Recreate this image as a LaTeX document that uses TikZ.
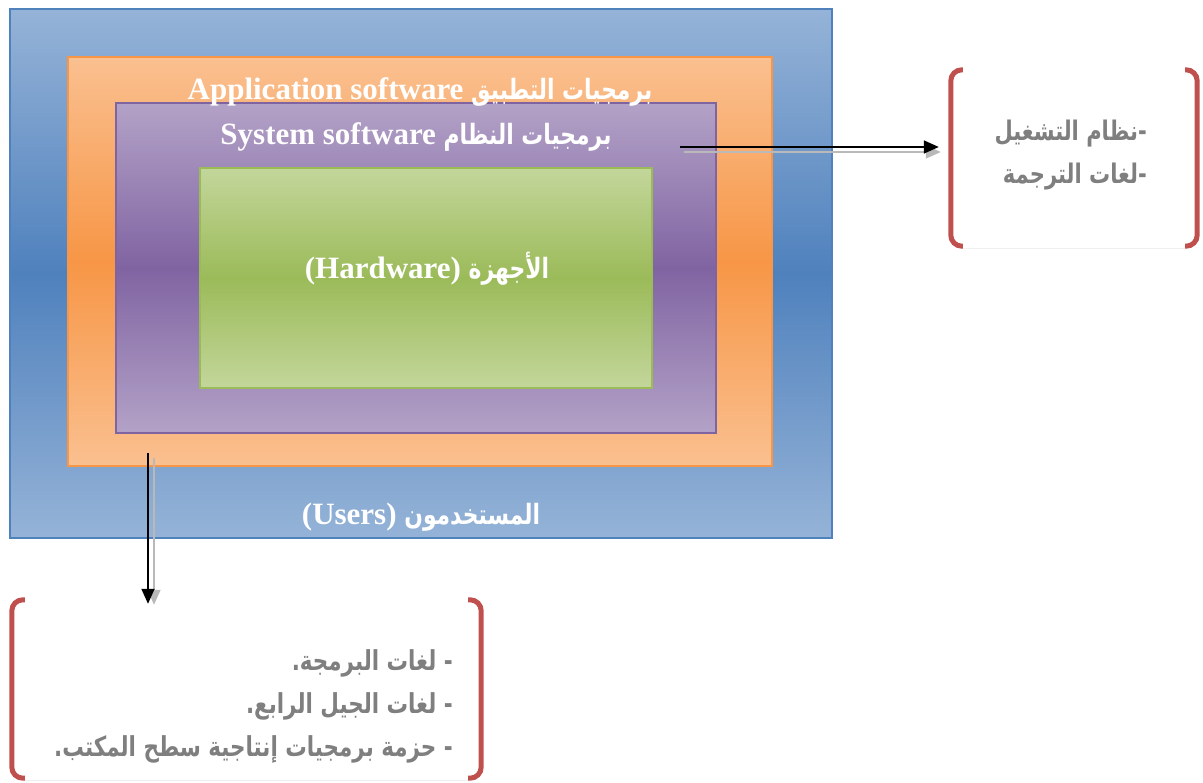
\documentclass[tikz,border=0pt]{standalone}
\usepackage{fontspec}
\setmainfont{Liberation Serif}
\newfontfamily\arabicfont[Script=Arabic,FakeStretch=0.78]{DejaVu Sans}
\TeXXeTstate=1
\usetikzlibrary{arrows.meta,calc}
\definecolor{bluetop}{HTML}{95B3D7}
\definecolor{bluemid}{HTML}{4F81BD}
\definecolor{orgtop}{HTML}{FAC090}
\definecolor{orgmid}{HTML}{F79646}
\definecolor{purtop}{HTML}{B3A2C7}
\definecolor{purmid}{HTML}{8064A2}
\definecolor{grntop}{HTML}{C3D69B}
\definecolor{grnmid}{HTML}{9BBB59}
\definecolor{brkred}{HTML}{C0504D}
\definecolor{txtgray}{HTML}{7F7F7F}
\newcommand{\ar}[2][28]{{\arabicfont\bfseries\fontsize{#1}{#1}\selectfont\beginR #2\endR}}
\begin{document}
\begin{tikzpicture}[x=1pt,y=-1pt,
  layer/.style={inner sep=0pt, line width=1.8pt},
  title/.style={anchor=base, inner sep=0pt, text=white, font=\bfseries\fontsize{31}{36}\selectfont},
  note/.style={anchor=base east, inner sep=0pt, text=txtgray},
  brk/.style={draw=brkred, line width=5pt, rounded corners=11pt},
  faint/.style={draw=gray!12, line width=0.8pt},
  arr/.style={line width=1.6pt, -{Triangle[length=15pt,width=13pt]}},
  sharr/.style={line width=1.6pt, draw=gray!55, -{Triangle[length=15pt,width=13pt]}, gray!55},
]
\useasboundingbox (0,0) rectangle (1203,783);
\node[layer, draw=bluemid, top color=bluetop, bottom color=bluetop, middle color=bluemid,
      minimum width=822pt, minimum height=529pt] (users) at (421,273.5) {};
\node[layer, draw=orgmid, top color=orgtop, bottom color=orgtop, middle color=orgmid,
      minimum width=704pt, minimum height=409pt] (app) at (420,261.5) {};
\node[layer, draw=purmid, top color=purtop, bottom color=purtop, middle color=purmid,
      minimum width=600pt, minimum height=330pt] (sys) at (416,268) {};
\node[layer, draw=grnmid, top color=grntop, bottom color=grntop, middle color=grnmid,
      minimum width=452pt, minimum height=220pt] (hw) at (426,278) {};

\node[title] (tapp) at (420,100) {Application software \ar{برمجيات التطبيق}};
\node[title] (tsys) at (416,145) {System software \ar{برمجيات النظام}};
\node[title] (thw) at (427,279) {(Hardware) \ar{الأجهزة}};
\node[title] (tusr) at (421,525) {(Users) \ar{المستخدمون}};

% right bracket box
\node[inner sep=0pt, minimum width=252pt, minimum height=180pt] (rbox) at (1074,158) {};
\draw[faint] ([xshift=14pt]rbox.south west) -- ([xshift=-14pt]rbox.south east);
\draw[brk] ([xshift=15pt,yshift=-2pt]rbox.north west) -- ([xshift=3pt,yshift=-2pt]rbox.north west)
  -- ([xshift=3pt,yshift=2pt]rbox.south west) -- ([xshift=15pt,yshift=2pt]rbox.south west);
\draw[brk] ([xshift=-15pt,yshift=-2pt]rbox.north east) -- ([xshift=-3pt,yshift=-2pt]rbox.north east)
  -- ([xshift=-3pt,yshift=2pt]rbox.south east) -- ([xshift=-15pt,yshift=2pt]rbox.south east);
\node[note] (r1) at (1147,141) {\ar[27]{-نظام التشغيل}};
\node[note] (r2) at (1147,184) {\ar[27]{-لغات الترجمة}};

% bottom bracket box
\node[inner sep=0pt, minimum width=477pt, minimum height=182pt] (bbox) at (246.5,689) {};
\draw[faint] ([xshift=16pt]bbox.south west) -- ([xshift=-16pt]bbox.south east);
\draw[brk] ([xshift=17pt,yshift=-2pt]bbox.north west) -- ([xshift=4pt,yshift=-2pt]bbox.north west)
  -- ([xshift=4pt,yshift=2pt]bbox.south west) -- ([xshift=17pt,yshift=2pt]bbox.south west);
\draw[brk] ([xshift=-17pt,yshift=-2pt]bbox.north east) -- ([xshift=-4pt,yshift=-2pt]bbox.north east)
  -- ([xshift=-4pt,yshift=2pt]bbox.south east) -- ([xshift=-17pt,yshift=2pt]bbox.south east);
\node[note] (b1) at (453,670) {\ar[27.5]{- لغات البرمجة.}};
\node[note] (b2) at (453,713) {\ar[27.5]{- لغات الجيل الرابع.}};
\node[note] (b3) at (453,756) {\ar[27.5]{- حزمة برمجيات إنتاجية سطح المكتب.}};

% arrows
\coordinate (a1) at (680,147);
\coordinate (a2) at (148,453);
\draw[sharr] ($(a1)+(4,5)$) -- ($(a1 -| rbox.west)+(-7,5)$);
\draw[arr] (a1) -- ($(a1 -| rbox.west)+(-9,0)$);
\draw[sharr] ($(a2)+(6,5)$) -- ($(a2 |- bbox.north)+(6,7)$);
\draw[arr] (a2) -- ($(a2 |- bbox.north)+(0,6)$);
\end{tikzpicture}
\end{document}
